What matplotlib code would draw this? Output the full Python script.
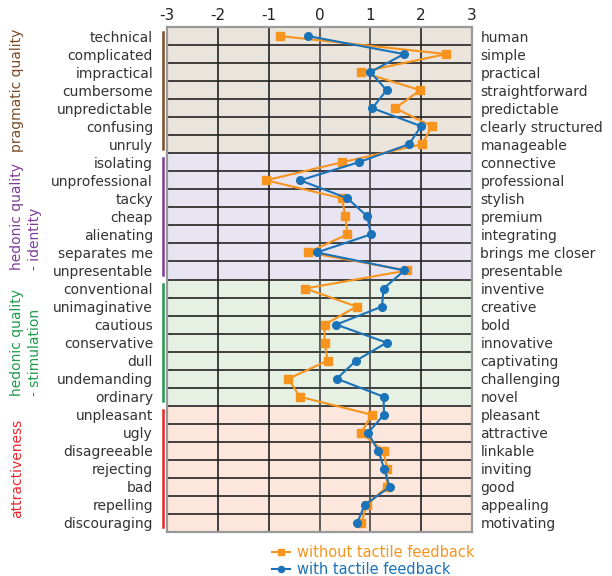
import matplotlib
matplotlib.use('Agg')
from matplotlib import pyplot as plt

# linke / rechte Begriffe der Wortpaare
left_words = ['technical', 'complicated', 'impractical', 'cumbersome', 'unpredictable', 'confusing', 'unruly',
              'isolating', 'unprofessional', 'tacky', 'cheap', 'alienating', 'separates me', 'unpresentable',
              'conventional', 'unimaginative', 'cautious', 'conservative', 'dull', 'undemanding', 'ordinary',
              'unpleasant', 'ugly', 'disagreeable', 'rejecting', 'bad', 'repelling', 'discouraging']
right_words = ['human', 'simple', 'practical', 'straightforward', 'predictable', 'clearly structured', 'manageable',
               'connective', 'professional', 'stylish', 'premium', 'integrating', 'brings me closer', 'presentable',
               'inventive', 'creative', 'bold', 'innovative', 'captivating', 'challenging', 'novel',
               'pleasant', 'attractive', 'linkable', 'inviting', 'good', 'appealing', 'motivating']

without_tactile = [-0.78, 2.49, 0.82, 1.98, 1.49, 2.21, 2.02,
                   0.44, -1.05, 0.44, 0.51, 0.55, -0.23, 1.72,
                   -0.28, 0.73, 0.10, 0.10, 0.16, -0.61, -0.39,
                   1.03, 0.82, 1.26, 1.33, 1.32, 0.93, 0.82]
with_tactile = [-0.23, 1.66, 1.00, 1.32, 1.04, 2.00, 1.76,
                0.77, -0.38, 0.55, 0.94, 1.01, -0.05, 1.67,
                1.26, 1.23, 0.33, 1.32, 0.72, 0.34, 1.26,
                1.27, 0.95, 1.16, 1.27, 1.38, 0.89, 0.74]

groups = ['pragmatic quality', 'hedonic quality\n- identity', 'hedonic quality\n- stimulation', 'attractiveness']
group_colors = ['#7b4a26', '#7d3c98', '#1e9a4c', '#e8262b']
group_bg = ['#ebe4dc', '#e9e4f1', '#e6f0e3', '#fde6dc']

orange = '#f7941d'
blue = '#1a72b8'

fig = plt.figure(figsize=(6.12, 5.76), dpi=100)
ax = fig.add_axes([167/612, 1-532/576, 305/612, 505/576])

n = len(left_words)
rows = list(range(n))

# Hintergrund je Gruppe
for g in range(4):
    ax.axhspan(g*7 - 0.5, g*7 + 6.5, color=group_bg[g], zorder=0, lw=0)

# Gitter
for i in range(n - 1):
    ax.axhline(i + 0.5, color='#222222', lw=1.2, zorder=1)
for v in [-2, -1, 0, 1, 2]:
    ax.axvline(v, color='#444444' if v in (0, 1) else '#222222', lw=1.2, zorder=1)

ax.plot(without_tactile, rows, color=orange, marker='s', ms=5.5, lw=1.5, zorder=3,
        label='without tactile feedback')
ax.plot(with_tactile, rows, color=blue, marker='o', ms=5.5, lw=1.5, zorder=4,
        label='with tactile feedback')

ax.set_xlim(-3, 3)
ax.set_ylim(n - 0.5, -0.5)
ax.xaxis.tick_top()
ax.set_xticks([-3, -2, -1, 0, 1, 2, 3])
ax.set_xticklabels(['-3', '-2', '-1', '0', '1', '2', '3'], fontsize=11, color='#222222')
ax.tick_params(axis='x', length=0, pad=3)

ax.set_yticks(rows)
ax.set_yticklabels(left_words, fontsize=10, color='#333333')
ax.tick_params(axis='y', length=0, pad=10)

ax2 = ax.twinx()
ax2.set_ylim(n - 0.5, -0.5)
ax2.set_yticks(rows)
ax2.set_yticklabels(right_words, fontsize=10, color='#333333')
ax2.tick_params(axis='y', length=0, pad=6)

for a in (ax, ax2):
    for s in a.spines.values():
        s.set_color('#999999')
        s.set_linewidth(1.5)

# Gruppen-Klammern und Beschriftung
for g in range(4):
    y0 = g*7 - 0.5 + 0.25
    y1 = g*7 + 6.5 - 0.25
    ax.plot([-3.08, -3.08], [y0, y1], color=group_colors[g], lw=1.8, clip_on=False, zorder=5)
    yc = 1 - (27 + (g*7 + 3.5) * 505/28) / 576
    if '\n' in groups[g]:
        xc = 26/612
    else:
        xc = 17/612
    fig.text(xc, yc, groups[g], rotation=90, ha='center', va='center', fontsize=10,
             color=group_colors[g], multialignment='left', linespacing=1.3)

leg = fig.legend(loc='upper left', bbox_to_anchor=(265/612, 1-538/576), frameon=False,
                 handlelength=1.2, handletextpad=0.5, labelspacing=0.1, fontsize=10.5,
                 labelcolor='linecolor', borderpad=0, markerscale=0.8)

plt.savefig('out.png', dpi=100)
